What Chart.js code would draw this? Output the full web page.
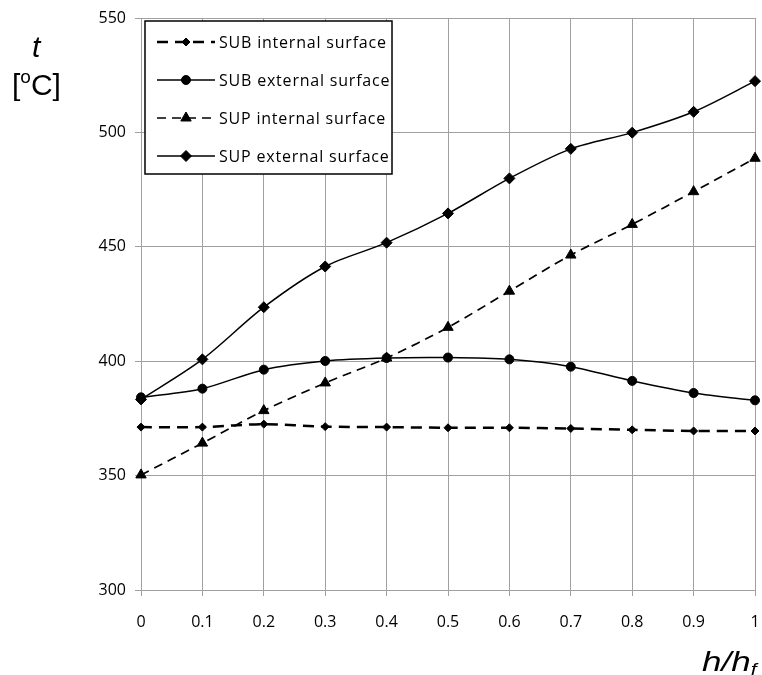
<!DOCTYPE html>
<html>
<head>
<meta charset="utf-8">
<script src="https://cdn.jsdelivr.net/npm/chart.js@4/dist/chart.umd.min.js"></script>
<style>
  html, body { margin: 0; padding: 0; background: #fff; }
  #wrap { position: relative; width: 762px; height: 675px; overflow: hidden; }
  canvas { position: absolute; left: 0; top: 0; }
  .lbl { position: absolute; font-family: "Liberation Sans", Arial, sans-serif; color: #000; white-space: nowrap; line-height: 1; }
</style>
</head>
<body>
<div id="wrap">
  <canvas id="c" width="762" height="675"></canvas>
  <div class="lbl" style="left:32px; top:32px; font-size:30px; font-style:italic;">t</div>
  <div class="lbl" style="left:12px; top:67px; font-size:30px;">[<sup style="font-size:19px; vertical-align:12px;">o</sup>C]</div>
  <div class="lbl" style="left:702px; top:648px; font-size:28px; font-style:italic; transform:scaleX(1.25); transform-origin:0 0;">h/h<sub style="font-size:17px; vertical-align:-4px;">f</sub></div>
</div>
<script>
// ---- data ----
const hf = ['0', '0.1', '0.2', '0.3', '0.4', '0.5', '0.6', '0.7', '0.8', '0.9', '1'];
const yTicks = [300, 350, 400, 450, 500, 550];
const seriesNames = ['SUB internal surface', 'SUB external surface', 'SUP internal surface', 'SUP external surface'];
const subInternal = [371.2, 371.2, 372.5, 371.4, 371.2, 370.9, 370.9, 370.6, 370.0, 369.5, 369.5];
const subExternal = [384.2, 388.0, 396.3, 400.1, 401.4, 401.6, 400.8, 397.6, 391.4, 386.1, 382.9];
const supInternal = [350.3, 364.2, 378.4, 390.5, 401.4, 414.8, 430.6, 446.4, 459.8, 474.1, 488.7];
const supExternal = [383.3, 400.8, 423.6, 441.4, 451.8, 464.6, 479.9, 492.8, 499.9, 509.0, 522.4];

const TICK_FONT = { family: '"Open Sans", sans-serif', size: 16 };

const legendPlugin = {
  id: 'boxLegend',
  afterDraw(chart) {
    const ctx = chart.ctx;
    const x0 = 145, y0 = 21, w = 247, h = 153;
    ctx.save();
    ctx.fillStyle = '#fff';
    ctx.fillRect(x0, y0, w, h);
    ctx.lineWidth = 1.5;
    ctx.strokeStyle = '#000';
    ctx.strokeRect(x0, y0, w, h);
    chart.data.datasets.forEach((ds, i) => {
      const yy = 42 + 38 * i;
      ctx.save();
      ctx.strokeStyle = ds.borderColor;
      ctx.lineWidth = ds.borderWidth;
      ctx.setLineDash(ds.borderDash || []);
      ctx.beginPath();
      ctx.moveTo(157, yy);
      ctx.lineTo(215, yy);
      ctx.stroke();
      ctx.restore();
      ctx.save();
      ctx.fillStyle = ds.pointBackgroundColor;
      ctx.strokeStyle = ds.pointBorderColor;
      ctx.lineWidth = 1;
      Chart.helpers.drawPoint(ctx, { pointStyle: ds.pointStyle, radius: ds.pointRadius, rotation: 0, borderWidth: 1 }, 186, yy);
      ctx.restore();
      ctx.save();
      ctx.fillStyle = '#000';
      ctx.font = '16px "Open Sans", sans-serif';
      if ('letterSpacing' in ctx) ctx.letterSpacing = '0.8px';
      ctx.textAlign = 'left';
      ctx.textBaseline = 'middle';
      ctx.fillText(ds.label, 219, yy + 1);
      ctx.restore();
    });
    ctx.restore();
  }
};

function mkDs(label, data, dash, width, style, radius) {
  return {
    label, data,
    borderColor: '#000', backgroundColor: '#000',
    borderWidth: width, borderDash: dash,
    pointStyle: style, pointRadius: radius, pointHoverRadius: radius,
    pointBackgroundColor: '#000', pointBorderColor: '#000', pointBorderWidth: 1,
    tension: 0.3, fill: false
  };
}

new Chart(document.getElementById('c'), {
  type: 'line',
  data: {
    labels: hf,
    datasets: [
      mkDs(seriesNames[0], subInternal, [11, 7], 2.5, 'rectRot', 4),
      mkDs(seriesNames[1], subExternal, [], 1.5, 'circle', 4.5),
      mkDs(seriesNames[2], supInternal, [9, 6], 1.7, 'triangle', 6),
      mkDs(seriesNames[3], supExternal, [], 1.5, 'rectRot', 5.5)
    ]
  },
  options: {
    responsive: false,
    animation: false,
    layout: { padding: { left: 0, right: 4, top: 18, bottom: 0 } },
    plugins: { legend: { display: false }, tooltip: { enabled: false } },
    scales: {
      x: {
        type: 'category',
        offset: false,
        grid: { color: '#a0a0a0', lineWidth: 1, drawTicks: true, tickLength: 6, tickColor: '#a0a0a0' },
        border: { color: '#a0a0a0', width: 1 },
        ticks: { color: '#000', font: TICK_FONT, padding: 17, autoSkip: false, maxRotation: 0 },
        afterFit(scale) { scale.height = 85; scale.paddingLeft = 0; scale.paddingRight = 0; }
      },
      y: {
        min: yTicks[0], max: yTicks[yTicks.length - 1],
        afterBuildTicks(scale) { scale.ticks = yTicks.map(v => ({ value: v })); },
        grid: { color: '#a0a0a0', lineWidth: 1, drawTicks: true, tickLength: 6, tickColor: '#a0a0a0' },
        border: { color: '#a0a0a0', width: 1 },
        ticks: { color: '#000', font: TICK_FONT, padding: 9 },
        afterFit(scale) { scale.width = 141; scale.paddingTop = 0; scale.paddingBottom = 0; }
      }
    }
  },
  plugins: [legendPlugin]
});
</script>
</body>
</html>
